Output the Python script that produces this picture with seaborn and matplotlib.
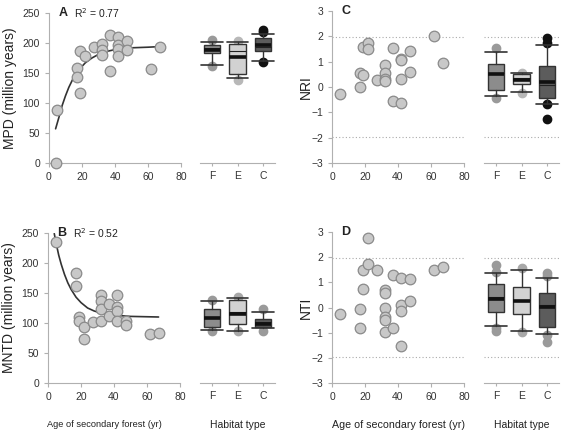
import numpy as np
import pandas as pd
import matplotlib
matplotlib.use('Agg')
import matplotlib.pyplot as plt
import seaborn as sns

# ---- data ----
age_a = [4, 5, 17, 17, 18.5, 18.5, 22, 27, 32, 32, 32, 37, 37, 42, 42, 42, 42, 47, 47, 62, 67]
mpd = [0, 89, 159, 143, 187, 117, 179, 193, 198, 189, 180, 214, 153, 210, 197, 190, 179, 204, 189, 157, 193]

age_b = [5, 17, 17, 18.5, 18.5, 22, 22, 27, 32, 32, 32, 32, 37, 37, 42, 42, 42, 42, 47, 47, 62, 67]
mntd = [235, 184, 161, 110, 104, 93, 73, 102, 146, 136, 123, 104, 132, 111, 146, 127, 120, 103, 103, 96, 81, 83]

age_c = [5, 17, 17, 18.5, 18.5, 22, 22, 27, 32, 32, 32, 32, 37, 37, 42, 42, 42, 42, 47, 47, 62, 67]
nri = [-0.27, 0.54, 0.0, 1.56, 0.48, 1.73, 1.49, 0.28, 0.86, 0.54, 0.32, 0.22, 1.52, -0.57,
       1.12, 1.07, 0.32, -0.65, 1.42, 0.61, 2.01, 0.96]

age_d = [5, 17, 17, 18.5, 18.5, 22, 22, 27, 32, 32, 32, 32, 32, 32, 37, 37, 42, 42, 42, 42, 47, 47, 62, 67]
nti = [-0.26, -0.07, -0.83, 1.50, 0.73, 2.76, 1.73, 1.48, 0.68, 0.58, -0.02, -0.38, -0.51, -0.99,
       1.31, -0.81, 1.17, 0.11, -0.15, -1.52, 1.13, 0.26, 1.50, 1.61]

# fitted curves
fit_a_x = [4, 6, 8, 10, 12, 15, 18, 22, 26, 30, 35, 40, 50, 60, 67]
fit_a_y = [57, 76, 96, 112, 126, 143, 155, 167, 175, 181, 186, 189, 192, 193, 194]
fit_b_x = [3.8, 5, 6.5, 8, 10, 12, 14, 17, 20, 24, 28, 33, 40, 50, 67]
fit_b_y = [249, 232, 213, 198, 181, 167, 156, 143, 134, 125, 120, 116, 113, 111, 110]

habitats = ['F', 'E', 'C']
# whislo, q1, median, mean, q3, whishi
box_mpd = [[163, 183, 192, 189, 197, 202], [141, 148, 186, 176, 198, 202], [170, 186, 194, 197, 209, 215]]
out_mpd = [[205, 162], [204, 139], [222, 218, 169]]
box_mntd = [[88, 94, 110, 108, 123, 136], [87, 99, 118, 115, 138, 141], [91, 93, 101, 99, 107, 119]]
out_mntd = [[138, 86], [144, 86], [124, 86]]
box_nri = [[-0.34, -0.12, 0.55, 0.50, 0.90, 1.39], [-0.18, 0.12, 0.34, 0.28, 0.50, 0.55],
           [-0.68, -0.45, 0.08, 0.18, 0.83, 1.66]]
out_nri = [[1.53, -0.45], [0.57, -0.22], [1.92, 1.75, -0.68, -1.28]]
box_nti = [[-0.72, -0.19, 0.40, 0.34, 0.92, 1.36], [-0.92, -0.27, 0.30, 0.27, 0.83, 1.49],
           [-1.05, -0.76, 0.10, 0.03, 0.56, 1.16]]
out_nti = [[1.69, 1.42, -0.80, -0.93], [1.56, -0.96], [1.36, 1.26, -1.09, -1.38]]

box_fill = ['#8c8c8c', '#d2d2d2', '#5c5c5c']

sns.set_style('white')
plt.rcParams['font.family'] = ['Liberation Sans', 'DejaVu Sans']
plt.rcParams['axes.edgecolor'] = '#b0b0b0'

fig = plt.figure(figsize=(5.63, 4.30), dpi=100)
W, H = 563, 430


def add_ax(x0, y0, x1, y1):
    return fig.add_axes([x0 / W, 1 - y1 / H, (x1 - x0) / W, (y1 - y0) / H])


def style_scatter_ax(ax, ylim, yticks, ylabel, letter, r2=None, sig=False, pad=4):
    ax.set_xlim(0, 80)
    ax.set_ylim(*ylim)
    ax.set_xticks([0, 20, 40, 60, 80])
    ax.set_yticks(yticks)
    for s in ['top', 'right']:
        ax.spines[s].set_visible(False)
    ax.tick_params(axis='both', labelsize=7.5, colors='#b0b0b0', labelcolor='#333333',
                   length=3, width=0.8, direction='out', left=True, bottom=True)
    ax.set_ylabel(ylabel, fontsize=10, color='#222222', labelpad=pad)
    ax.set_xlabel('')
    ax.text(0.07, 1.0, letter, transform=ax.transAxes, fontsize=9, fontweight='bold',
            va='center', ha='left', color='#222222')
    if r2 is not None:
        ax.text(0.19, 1.0, r2, transform=ax.transAxes, fontsize=7.5, va='center', ha='left',
                color='#222222')
    if sig:
        for v in (1.96, -1.96):
            ax.axhline(v, color='#aaaaaa', lw=0.8, ls=(0, (1, 2)))


def draw_boxes(ax, stats, outs, ylim, flier_cols, sig=False):
    bxp_stats = []
    for h, s in zip(habitats, stats):
        bxp_stats.append(dict(label=h, whislo=s[0], q1=s[1], med=s[2], mean=s[3], q3=s[4],
                              whishi=s[5], fliers=[]))
    res = ax.bxp(bxp_stats, positions=[0, 1, 2], widths=0.65, capwidths=0.85,
                 patch_artist=True, showmeans=True, meanline=True, showfliers=False,
                 boxprops=dict(edgecolor='#333333', lw=1),
                 whiskerprops=dict(color='#333333', lw=1),
                 capprops=dict(color='#333333', lw=1.2),
                 medianprops=dict(color='#222222', lw=0.8),
                 meanprops=dict(color='#111111', lw=2.6, ls='-'))
    for patch, c in zip(res['boxes'], box_fill):
        patch.set_facecolor(c)
    for i, (vals, fc) in enumerate(zip(outs, flier_cols)):
        ax.plot([i] * len(vals), vals, 'o', ms=6, mfc=fc, mec=fc, zorder=1)
    ax.set_xlim(-0.47, 2.47)
    ax.set_ylim(*ylim)
    ax.set_yticks([])
    for s in ['top', 'right', 'left']:
        ax.spines[s].set_visible(False)
    ax.tick_params(axis='x', labelsize=7.5, colors='#b0b0b0', labelcolor='#333333',
                   length=2.5, width=0.8, bottom=True)
    if sig:
        for v in (1.96, -1.96):
            ax.axhline(v, color='#aaaaaa', lw=0.8, ls=(0, (1, 2)), zorder=0)


pt_kw = dict(s=58, color='#c8c8c8', edgecolor='#8a8a8a', linewidth=0.9, zorder=3, clip_on=False)

# panel A
axA = add_ax(49, 13, 181, 163)
sns.scatterplot(x=age_a, y=mpd, ax=axA, **pt_kw)
sns.lineplot(x=fit_a_x, y=fit_a_y, ax=axA, color='#333333', lw=1.2, zorder=2)
style_scatter_ax(axA, (0, 250), [0, 50, 100, 150, 200, 250], 'MPD (million years)', 'A',
                 'R$^2$ = 0.77')
axAb = add_ax(200, 13, 275, 163)
draw_boxes(axAb, box_mpd, out_mpd, (0, 250), ['#9a9a9a', '#b8b8b8', '#111111'])

# panel B
axB = add_ax(48, 233, 180, 383)
sns.scatterplot(x=age_b, y=mntd, ax=axB, **pt_kw)
sns.lineplot(x=fit_b_x, y=fit_b_y, ax=axB, color='#333333', lw=1.2, zorder=2)
style_scatter_ax(axB, (0, 250), [0, 50, 100, 150, 200, 250], 'MNTD (million years)', 'B',
                 'R$^2$ = 0.52')
axB.set_xlabel('Age of secondary forest (yr)', fontsize=6.7, color='#222222', labelpad=12)
axB.xaxis.set_label_coords(0.43, -0.245)
axBb = add_ax(200, 233, 275, 383)
draw_boxes(axBb, box_mntd, out_mntd, (0, 250), ['#9a9a9a', '#a8a8a8', '#9a9a9a'])
axBb.set_xlabel('Habitat type', fontsize=7.5, color='#222222', labelpad=12)
axBb.xaxis.set_label_coords(0.5, -0.245)

# panel C
axC = add_ax(332, 11, 464, 163)
sns.scatterplot(x=age_c, y=nri, ax=axC, **pt_kw)
style_scatter_ax(axC, (-3, 3), [-3, -2, -1, 0, 1, 2, 3], 'NRI', 'C', sig=True, pad=-1)
axCb = add_ax(484, 11, 559, 163)
draw_boxes(axCb, box_nri, out_nri, (-3, 3), ['#9a9a9a', '#b8b8b8', '#111111'], sig=True)

# panel D
axD = add_ax(332, 232, 464, 383)
sns.scatterplot(x=age_d, y=nti, ax=axD, **pt_kw)
style_scatter_ax(axD, (-3, 3), [-3, -2, -1, 0, 1, 2, 3], 'NTI', 'D', sig=True, pad=-1)
axD.set_xlabel('Age of secondary forest (yr)', fontsize=7.7, color='#222222', labelpad=12)
axD.xaxis.set_label_coords(0.5, -0.245)
axDb = add_ax(484, 232, 559, 383)
draw_boxes(axDb, box_nti, out_nti, (-3, 3), ['#9a9a9a', '#a8a8a8', '#9a9a9a'], sig=True)
axDb.set_xlabel('Habitat type', fontsize=7.5, color='#222222', labelpad=12)
axDb.xaxis.set_label_coords(0.5, -0.245)

fig.savefig('out.png', dpi=100)
